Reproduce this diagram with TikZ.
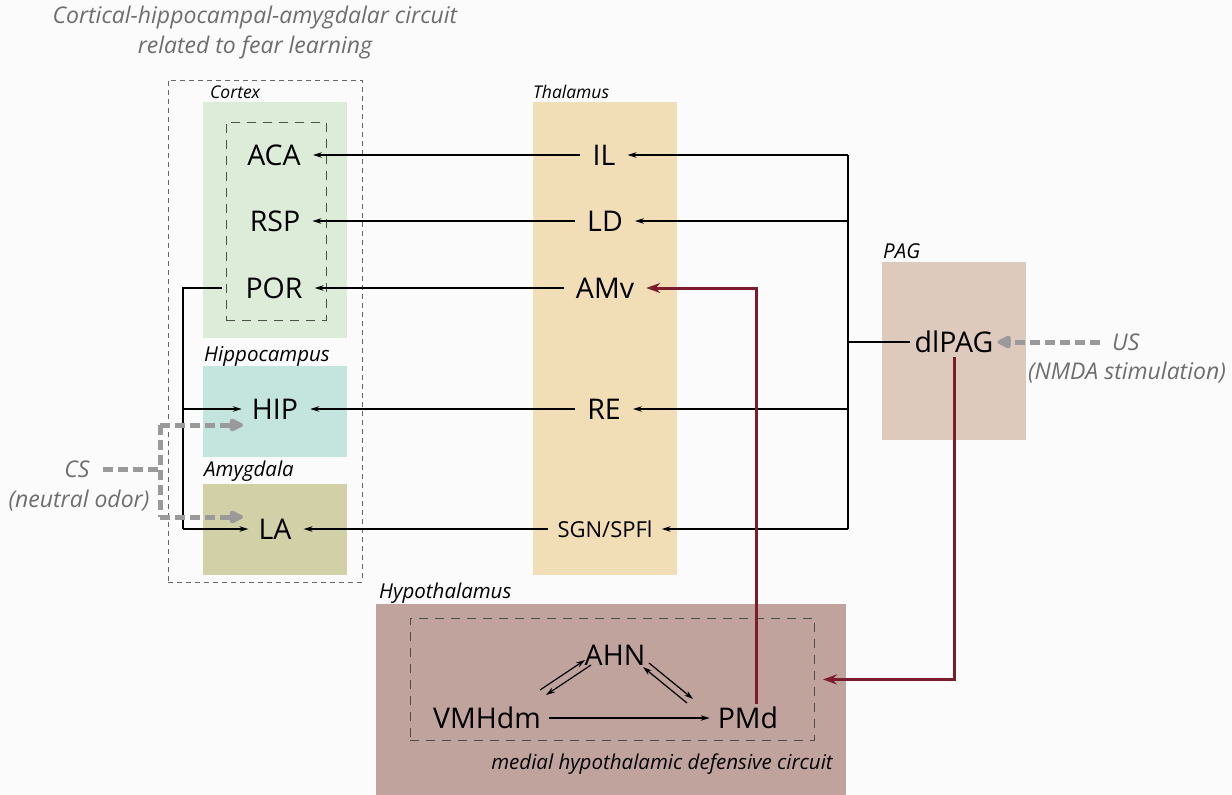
\documentclass[tikz,border=0pt]{standalone}
\usepackage{fontspec}
\setmainfont{Open Sans}
\usetikzlibrary{arrows.meta,calc}
\definecolor{bgc}{HTML}{FBFBFB}
\definecolor{cortexc}{HTML}{DDEBD9}
\definecolor{hipc}{HTML}{C4E4DE}
\definecolor{amyc}{HTML}{D2D0A6}
\definecolor{thalc}{HTML}{F1DEB6}
\definecolor{pagc}{HTML}{DECABD}
\definecolor{hypc}{HTML}{C1A39E}
\definecolor{darkred}{HTML}{7B1C2C}
\definecolor{grayc}{HTML}{9A9A9A}
\definecolor{graytext}{HTML}{6E6E6E}
\begin{document}
\begin{tikzpicture}[x=1pt,y=-1pt,
  region/.style={fill=#1, draw=none, anchor=north west, inner sep=0pt},
  lab/.style={font=\fontsize{28.5}{28}\selectfont, inner xsep=12pt, inner ysep=2pt, text height=20pt, text depth=0pt},
  smalllab/.style={font=\fontsize{22}{22}\selectfont, inner xsep=9pt, inner ysep=2pt, text height=16pt, text depth=0pt},
  reg/.style={font=\itshape\fontsize{17.5}{17}\selectfont, anchor=west, inner sep=0pt},
  bigreg/.style={font=\itshape\fontsize{20.5}{20}\selectfont, anchor=west, inner sep=0pt},
  note/.style={font=\itshape\fontsize{23}{30}\selectfont, text=graytext, inner sep=0pt, align=center},
  outerdash/.style={draw=black!60, line width=0.9pt, dash pattern=on 5pt off 4pt},
  innerdash/.style={draw=black!70, line width=0.9pt, dash pattern=on 9pt off 7pt},
  ln/.style={line width=1.2pt},
  arr/.style={line width=1.2pt, -{Stealth[length=9pt,width=5.5pt]}},
  redarr/.style={draw=darkred, line width=3pt, -{Stealth[length=14pt,width=10pt]}},
  grayarr/.style={draw=grayc, line width=5pt, dash pattern=on 10pt off 5pt, -{Triangle[length=16pt,width=14pt,round]}},
  grayln/.style={draw=grayc, line width=5pt, dash pattern=on 10pt off 5pt}
]
\useasboundingbox[fill=bgc] (0,0) rectangle (1232,795);

% title
\node[note] (title) at (255,33) {Cortical-hippocampal-amygdalar circuit\\related to fear learning};

% outer dashed box
\node[outerdash, anchor=north west, minimum width=194pt, minimum height=502pt, inner sep=0pt] (outerbox) at (168,80) {};

% regions
\node[region=cortexc, minimum width=144pt, minimum height=236pt] (cortex) at (203,102) {};
\node[region=hipc, minimum width=144pt, minimum height=91pt] (hipbox) at (203,366) {};
\node[region=amyc, minimum width=144pt, minimum height=91pt] (amybox) at (203,484) {};
\node[region=thalc, minimum width=144pt, minimum height=473pt] (thal) at (533,102) {};
\node[region=pagc, minimum width=144pt, minimum height=178pt] (pagbox) at (882,262) {};
\node[region=hypc, minimum width=470pt, minimum height=191pt] (hyp) at (376,604) {};

% region labels
\node[reg] (lcortex) at (210,92) {Cortex};
\node[bigreg] (lhip) at (204,356) {Hippocampus};
\node[bigreg] (lamy) at (204,471) {Amygdala};
\node[reg] (lthal) at (533,92) {Thalamus};
\node[bigreg] (lpag) at (883,251) {PAG};
\node[bigreg] (lhyp) at (379,593) {Hypothalamus};

% inner dashed boxes
\node[innerdash, anchor=north west, minimum width=100pt, minimum height=198pt, inner sep=0pt] (ctxin) at (226,122) {};
\node[innerdash, anchor=north west, minimum width=404pt, minimum height=122pt, inner sep=0pt] (hypin) at (410,618) {};

% cortex nodes
\node[lab] (ACA) at (274,155) {ACA};
\node[lab] (RSP) at (275,221) {RSP};
\node[lab] (POR) at (274,288) {POR};
\node[lab] (HIP) at (275,409) {HIP};
\node[lab] (LA) at (275,529) {LA};

% thalamus nodes
\node[lab] (IL) at (604,155) {IL};
\node[lab] (LD) at (605,221) {LD};
\node[lab] (AMv) at (605,288) {AMv};
\node[lab] (RE) at (604,409) {RE};
\node[smalllab] (SGN) at (605,529) {SGN/SPFl};

% PAG
\node[lab, inner xsep=4pt] (dlPAG) at (954,342) {dlPAG};

% hypothalamus nodes
\node[lab, inner xsep=6pt] (AHN) at (615,655) {AHN};
\node[lab, inner xsep=8pt] (VMHdm) at (487,718) {VMHdm};
\node[lab, inner xsep=8pt] (PMd) at (748,718) {PMd};

\node[font=\itshape\fontsize{20.5}{20}\selectfont, anchor=east, inner sep=0pt] (hyplabel) at (833,764) {medial hypothalamic defensive circuit};

% external inputs
\node[note, anchor=west] (US) at (1112,342) {US};
\node[note] (NMDA) at (1127,373) {(NMDA stimulation)};
\node[note] (CS) at (77,469) {CS};
\node[note] (odor) at (79,501) {(neutral odor)};

% thalamus -> cortex
\draw[arr] (IL.west) -- (ACA.east);
\draw[arr] (LD.west) -- (RSP.east);
\draw[arr] (AMv.west) -- (POR.east);
\draw[arr] (RE.west) -- (HIP.east);
\draw[arr] (SGN.west) -- (LA.east);

% PAG bus
\coordinate (busT) at (848,155);
\coordinate (busB) at (848,529);
\draw[ln] (busT) -- (busB);
\draw[ln] (dlPAG.west) -- (dlPAG.west -| busT);
\draw[arr] (busT) -- (IL.east);
\draw[arr] (busT |- LD.east) -- (LD.east);
\draw[arr] (busT |- RE.east) -- (RE.east);
\draw[arr] (busB) -- (SGN.east);

% POR -> HIP, LA
\coordinate (porout) at (222,288);
\coordinate (leftbus) at (183,288);
\draw[ln] (porout) -- (leftbus) -- (leftbus |- LA.west);
\draw[arr] (leftbus |- HIP.west) -- ([xshift=2pt]HIP.west);
\draw[arr] (leftbus |- LA.west) -- ([xshift=2pt]LA.west);

% hypothalamic circuit
\draw[arr] (VMHdm.east) -- (PMd.west);
\draw[arr] (540,690) -- (585,660);
\draw[arr] (591,665) -- (546,695);
\draw[arr] (649,663) -- (693,699);
\draw[arr] (687,703) -- (643,667);

% red projections
\draw[redarr] ([yshift=-3pt]dlPAG.south) |- ([xshift=8pt]hypin.east);
\draw[redarr] ([xshift=8pt,yshift=2pt]PMd.north) |- (AMv.east);

% gray sensory inputs
\draw[grayarr, shorten <=12pt] (US.west) -- (dlPAG.east);
\coordinate (csj) at (160,469);
\draw[grayln] (CS.east) ++(13pt,0) -- (csj);
\draw[grayln] (160,425) -- (160,517);
\draw[grayarr] (160,425) -- (243,425);
\draw[grayarr] (160,517) -- (243,517);
\end{tikzpicture}
\end{document}
